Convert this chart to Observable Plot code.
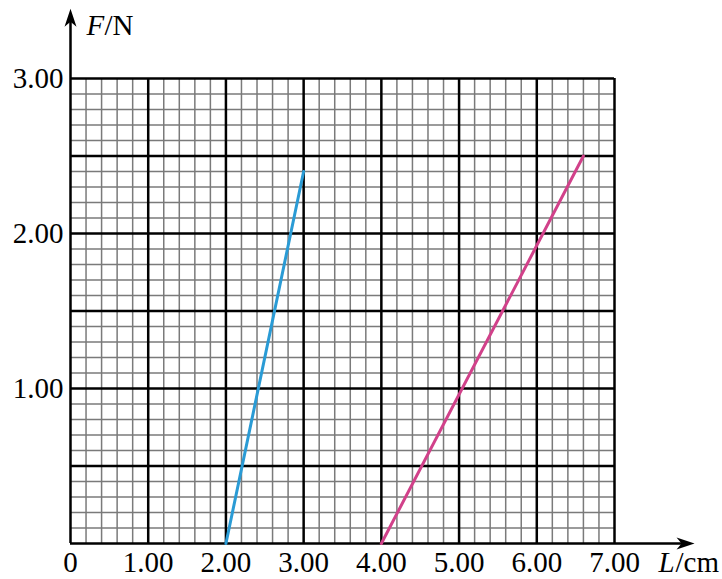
<!DOCTYPE html>
<html>
<head>
<meta charset="utf-8">
<script src="https://cdn.jsdelivr.net/npm/d3@7"></script>
<script src="https://cdn.jsdelivr.net/npm/@observablehq/plot@0.6"></script>
<style>
  html, body { margin: 0; padding: 0; background: #fff; }
  #chart svg { display: block; }
</style>
</head>
<body>
<div id="chart"></div>
<script>
// Data
const blueL = [2.0, 3.0];
const blueF = [0, 2.4];
const pinkL = [4.0, 6.6];
const pinkF = [0, 2.5];

// Tick labels
const xTickValues = [0, 1, 2, 3, 4, 5, 6, 7];
const xTickLabels = ["0", "1.00", "2.00", "3.00", "4.00", "5.00", "6.00", "7.00"];
const yTickValues = [1, 2, 3];
const yTickLabels = ["1.00", "2.00", "3.00"];

// Grid spacing
const xMinorStep = 0.2, yMinorStep = 0.1;
const xMajor = [1, 2, 3, 4, 5, 6, 7];
const yMajor = [0.5, 1, 1.5, 2, 2.5, 3];

const xMinor = d3.range(1, 35).map(i => +(i * xMinorStep).toFixed(2)).filter(v => Math.abs(v - Math.round(v)) > 1e-6);
const yMinor = d3.range(1, 30).map(i => +(i * yMinorStep).toFixed(2)).filter(v => Math.abs(v * 2 - Math.round(v * 2)) > 1e-6);

const blue = blueL.map((L, i) => ({L, F: blueF[i]}));
const pink = pinkL.map((L, i) => ({L, F: pinkF[i]}));

// axis extents (beyond domain, for arrows)
const xAxisEnd = 8.03;
const yAxisEnd = 3.45;

const arrowSymbol = {
  draw(ctx, size) {
    ctx.moveTo(0, -9);
    ctx.lineTo(6, 9);
    ctx.lineTo(0, 4);
    ctx.lineTo(-6, 9);
    ctx.closePath();
  }
};

const font = "Liberation Serif";
const fs = 29;

const chart = Plot.plot({
  width: 722,
  height: 579,
  marginLeft: 70,
  marginRight: 108,
  marginTop: 78,
  marginBottom: 36,
  x: {domain: [0, 7], axis: null},
  y: {domain: [0, 3], axis: null},
  style: {background: "#fff", fontFamily: font},
  marks: [
    Plot.ruleX(xMinor, {x: d => d, y1: 0, y2: 3, stroke: "#7a7a7a", strokeWidth: 1.5}),
    Plot.ruleY(yMinor, {y: d => d, x1: 0, x2: 7, stroke: "#7a7a7a", strokeWidth: 1.5}),
    Plot.ruleX(xMajor, {x: d => d, y1: 0, y2: 3, stroke: "#000", strokeWidth: 2.5}),
    Plot.ruleY(yMajor, {y: d => d, x1: 0, x2: 7, stroke: "#000", strokeWidth: 2.5}),
    // axes
    Plot.ruleY([0], {x1: 0, x2: xAxisEnd - 0.1, stroke: "#000", strokeWidth: 2.5}),
    Plot.ruleX([0], {y1: 0, y2: yAxisEnd - 0.05, stroke: "#000", strokeWidth: 2.5}),
    Plot.dot([0], {x: xAxisEnd, y: 0, dx: -9, symbol: arrowSymbol, fill: "#000", stroke: null, rotate: 90}),
    Plot.dot([0], {x: 0, y: yAxisEnd, dy: 9, symbol: arrowSymbol, fill: "#000", stroke: null}),
    // data lines
    Plot.line(blue, {x: "L", y: "F", stroke: "#2a9bd5", strokeWidth: 3}),
    Plot.line(pink, {x: "L", y: "F", stroke: "#d1418a", strokeWidth: 3}),
    // tick labels
    Plot.text(xTickValues, {x: d => d, y: 0, dy: 19, text: (d, i) => xTickLabels[i], fontSize: fs, fontFamily: font, fill: "#000", textAnchor: "middle"}),
    Plot.text(yTickValues, {x: 0, y: d => d, dx: -7, text: (d, i) => yTickLabels[i], fontSize: fs, fontFamily: font, fill: "#000", textAnchor: "end"}),
    // axis titles
    Plot.text(["F"], {x: 0, y: yAxisEnd, dx: 16, dy: 17, text: d => d, fontSize: fs, fontFamily: font, fontStyle: "italic", fill: "#000", textAnchor: "start"}),
    Plot.text(["/N"], {x: 0, y: yAxisEnd, dx: 34, dy: 17, text: d => d, fontSize: fs, fontFamily: font, fill: "#000", textAnchor: "start"}),
    Plot.text(["L"], {x: 7, y: 0, dx: 44, dy: 19, text: d => d, fontSize: fs, fontFamily: font, fontStyle: "italic", fill: "#000", textAnchor: "start"}),
    Plot.text(["/cm"], {x: 7, y: 0, dx: 61, dy: 19, text: d => d, fontSize: fs, fontFamily: font, fill: "#000", textAnchor: "start"})
  ]
});
document.getElementById("chart").appendChild(chart);
</script>
</body>
</html>
